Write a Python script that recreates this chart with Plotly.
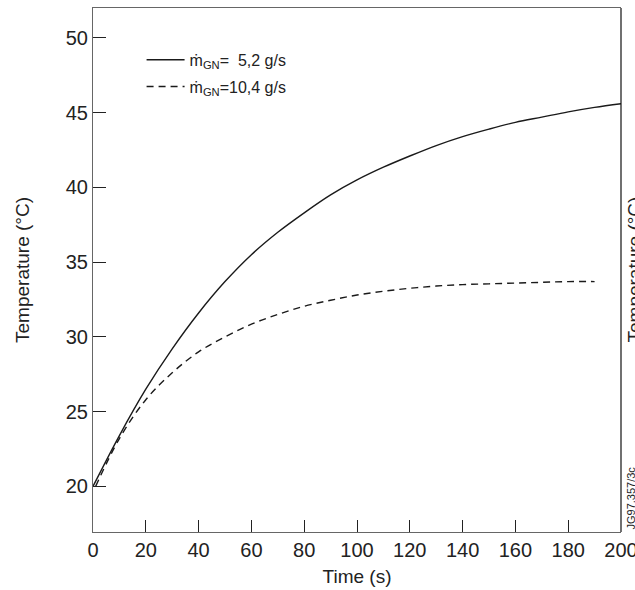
import plotly.graph_objects as go

# Data
time_solid = [0, 10, 20, 30, 40, 50, 60, 70, 80, 90, 100, 110, 120, 130, 140, 150, 160, 170, 180, 190, 200]
temp_solid = [20.0, 23.4, 26.5, 29.2, 31.6, 33.7, 35.5, 37.0, 38.3, 39.5, 40.5, 41.35, 42.1, 42.8, 43.4,
              43.9, 44.35, 44.7, 45.05, 45.35, 45.6]

time_dash = [1, 10, 20, 30, 40, 50, 60, 70, 80, 90, 100, 110, 120, 130, 140, 150, 160, 170, 180, 190]
temp_dash = [20.0, 23.2, 25.8, 27.6, 29.0, 30.0, 30.85, 31.5, 32.05, 32.45, 32.8, 33.05, 33.25, 33.4,
             33.5, 33.55, 33.6, 33.65, 33.7, 33.7]

label_solid = "ṁ<sub>GN</sub>=\u00a0\u00a05,2 g/s"
label_dash = "ṁ<sub>GN</sub>=10,4 g/s"

x_ticks = [0, 20, 40, 60, 80, 100, 120, 140, 160, 180, 200]
y_ticks = [20, 25, 30, 35, 40, 45, 50]

FONT = "Liberation Sans, Arial, sans-serif"

fig = go.Figure()
fig.add_trace(go.Scatter(x=time_solid, y=temp_solid, mode="lines", name=label_solid, legend="legend",
                         line=dict(color="#1a1a1a", width=1.4, shape="spline", smoothing=1.0)))
fig.add_trace(go.Scatter(x=time_dash, y=temp_dash, mode="lines", name=label_dash, legend="legend2",
                         line=dict(color="#1a1a1a", width=1.4, dash="7px,5px", shape="spline",
                                   smoothing=1.0)))

leg_common = dict(x=0.092, xanchor="left", yanchor="middle", bgcolor="rgba(0,0,0,0)",
                  font=dict(size=16, color="#222"), itemwidth=38)

fig.update_layout(
    width=635, height=590,
    margin=dict(l=93, r=14, t=8, b=58, autoexpand=False),
    paper_bgcolor="white", plot_bgcolor="white",
    font=dict(family=FONT, color="#222", size=20),
    showlegend=True,
    legend=dict(y=0.901, **leg_common),
    legend2=dict(y=0.850, **leg_common),
    xaxis=dict(range=[0, 200], tickvals=x_ticks, ticks="inside", ticklen=12, tickwidth=1,
               tickcolor="#222", showgrid=False, zeroline=False, showline=True,
               linecolor="#666", linewidth=1.2, mirror=True, ticklabeloverflow="allow",
               automargin=False, tickfont=dict(size=20),
               title=dict(text="Time (s)", standoff=9, font=dict(size=19))),
    yaxis=dict(range=[16.95, 52], tickvals=y_ticks, ticks="inside", ticklen=13, tickwidth=1,
               tickcolor="#222", showgrid=False, zeroline=False, showline=True,
               linecolor="#666", linewidth=1.2, tickfont=dict(size=20), automargin=False,
               title=dict(text="Temperature (°C)", standoff=31, font=dict(size=19))),
    shapes=[dict(type="line", xref="paper", yref="paper", x0=1, x1=1, y0=0, y1=1,
                 line=dict(color="#111", width=1.2))],
    annotations=[
        dict(text="JG97.357/3c", xref="paper", yref="paper", x=1.0, y=0.0,
             xanchor="left", yanchor="bottom", textangle=-90, showarrow=False,
             font=dict(size=11, color="#222"), xshift=1),
        dict(text="Temperature (°C)", xref="paper", yref="paper", x=1.0, y=0.5,
             xanchor="left", yanchor="middle", textangle=-90, showarrow=False,
             font=dict(size=19, color="#222"), xshift=0),
    ],
)

fig.write_html("out.html")
